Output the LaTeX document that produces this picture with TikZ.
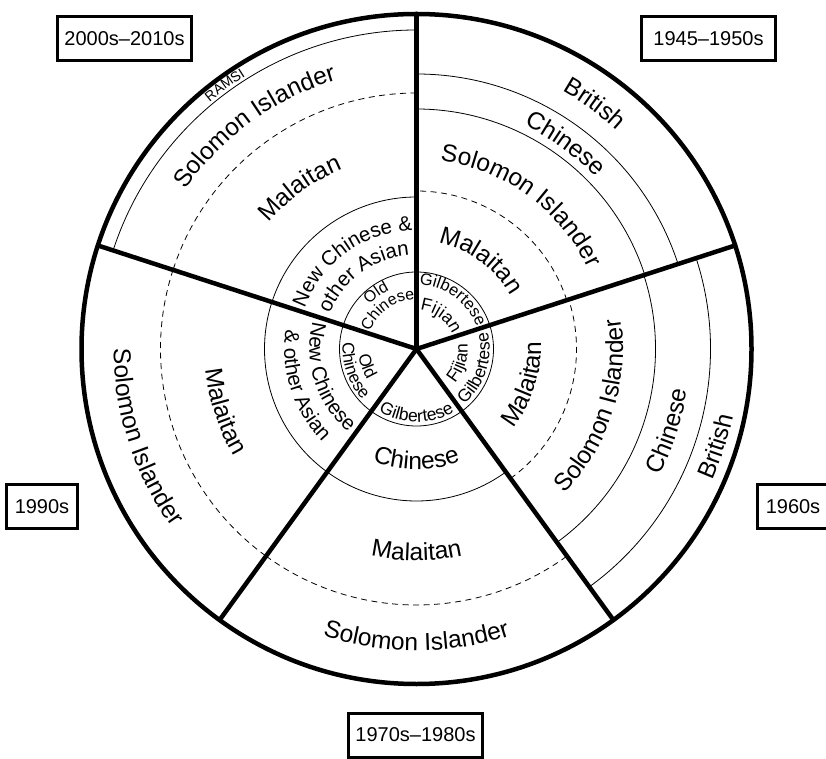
\documentclass[tikz,border=0pt]{standalone}
\usepackage{fontspec}
\setmainfont{Liberation Sans}
\usetikzlibrary{decorations.text}
% clockwise label (letter tops outward): mid angle, centre radius, font size, text
\newcommand\cwlbl[4]{\path[decorate,decoration={text along path,text align=center,text={|\fontsize{#3}{#3}\selectfont|#4}}] ([shift={({#1+90}:{#2-0.35*#3})}]C) arc[start angle={#1+90},end angle={#1-90},radius={#2-0.35*#3}];}
% counter-clockwise label (letter tops inward)
\newcommand\ccwlbl[4]{\path[decorate,decoration={text along path,text align=center,text={|\fontsize{#3}{#3}\selectfont|#4}}] ([shift={({#1-90}:{#2+0.35*#3})}]C) arc[start angle={#1-90},end angle={#1+90},radius={#2+0.35*#3}];}
\newcommand\ringarc[4]{\draw[#4] ([shift={(#1:#3)}]C) arc[start angle=#1,end angle=#2,radius=#3];}
\begin{document}
\begin{tikzpicture}[x=1pt,y=1pt,
  thinline/.style={line width=0.8pt},
  dashline/.style={line width=0.8pt,dash pattern=on 6pt off 4.5pt},
  heavy/.style={line width=4.5pt},
  period/.style={draw,line width=3pt,inner sep=0pt,minimum height=44pt,font=\fontsize{20}{20}\selectfont},
]
\useasboundingbox (0,0) rectangle (826,758);
\coordinate (C) at (416.5,409);

% inner circle
\draw[thinline] (C) circle[radius=77];
% 1945-1950s
\ringarc{18}{90}{275}{thinline}
\ringarc{18}{90}{240}{thinline}
\ringarc{18}{90}{158}{dashline}
% 1960s
\ringarc{-54}{18}{294}{thinline}
\ringarc{-54}{18}{239}{thinline}
\ringarc{-54}{18}{160}{dashline}
% 1970s-1980s
\ringarc{-126}{-54}{152}{thinline}
\ringarc{-126}{-54}{256}{dashline}
% 1990s
\ringarc{162}{234}{152}{thinline}
\ringarc{162}{234}{256}{dashline}
% 2000s-2010s
\ringarc{90}{162}{152}{thinline}
\ringarc{90}{162}{256}{dashline}
\ringarc{90}{162}{319}{thinline}

% labels 1945-1950s
\cwlbl{54}{305}{24.5}{British}
\cwlbl{54}{257}{24.5}{Chinese}
\cwlbl{54}{198}{24.5}{Solomon Islander}
\cwlbl{54}{117}{24.5}{Malaitan}
\cwlbl{54}{70}{16.5}{Gilbertese}
\cwlbl{54}{45}{17.5}{Fijian}
% labels 1960s
\ccwlbl{-18}{315}{24.5}{British}
\ccwlbl{-18}{265}{24.5}{Chinese}
\ccwlbl{-18}{198}{24.5}{Solomon Islander}
\ccwlbl{-18}{116}{24.5}{Malaitan}
\ccwlbl{-18}{67}{17.5}{Gilbertese}
\ccwlbl{-18}{45}{17.5}{Fijian}
% labels 1970s-1980s
\ccwlbl{-90}{67}{17.5}{Gilbertese}
\ccwlbl{-90}{112}{24.5}{Chinese}
\ccwlbl{-90}{203}{24.5}{Malaitan}
\ccwlbl{-90}{293}{24.5}{Solomon Islander}
% labels 1990s
\ccwlbl{199}{52}{17}{Old}
\ccwlbl{199}{68}{17}{Chinese}
\ccwlbl{198}{100}{20.5}{New Chinese}
\ccwlbl{198}{125}{20.5}{{\&} other Asian}
\ccwlbl{198}{203}{24.5}{Malaitan}
\ccwlbl{198}{294}{24.5}{Solomon Islander}
% labels 2000s-2010s
\cwlbl{126}{70}{16}{Old}
\cwlbl{126}{55}{16}{Chinese}
\cwlbl{126}{126}{20.5}{New Chinese {\&}}
\cwlbl{126}{101}{20.5}{other Asian}
\cwlbl{126}{203}{24.5}{Malaitan}
\cwlbl{126}{289}{24.5}{Solomon Islander}
\cwlbl{126}{327}{14}{RAMSI}

% spokes
\foreach \a/\n in {90/sA,18/sB,-54/sC,-126/sD,162/sE}{
  \coordinate (\n) at ([shift={(\a:335)}]C);
  \draw[heavy,line cap=round] (C) -- (\n);
}
% outer circle
\draw[heavy] (C) circle[radius=335];

% period boxes
\node[period,minimum width=134pt] (p2000) at (124.5,719.5) {2000s–2010s};
\node[period,minimum width=134pt] (p1945) at (708.5,719.5) {1945–1950s};
\node[period,minimum width=71pt] (p1990) at (42,251.5) {1990s};
\node[period,minimum width=71pt] (p1960) at (793,251.5) {1960s};
\node[period,minimum width=134pt] (p1970) at (415.5,23) {1970s–1980s};
\end{tikzpicture}
\end{document}
